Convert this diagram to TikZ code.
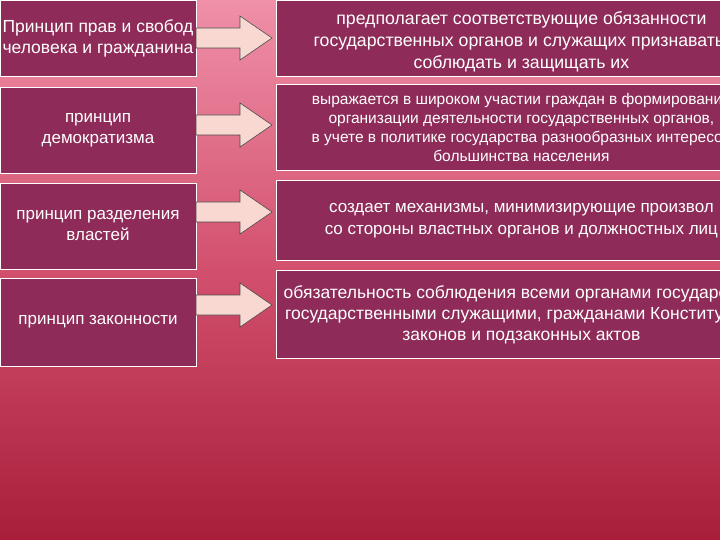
\documentclass[tikz,border=0pt]{standalone}
\usepackage{fontspec}
\setmainfont{Liberation Sans}
\definecolor{boxc}{HTML}{8E2B58}
\definecolor{topc}{HTML}{F090A8}
\definecolor{botc}{HTML}{A81E3A}
\definecolor{arrc}{HTML}{F8D8D0}
\tikzset{
 box/.style={draw=white, line width=0.8pt, fill=boxc, text=white, align=center, inner sep=2pt},
 arr/.style={draw=black!70, fill=arrc, line width=0.6pt},
}
\begin{document}
\begin{tikzpicture}[x=1pt,y=-1pt]
\useasboundingbox (0,0) rectangle (720,540);
\clip (0,0) rectangle (720,540);
\shade[top color=topc, bottom color=botc, middle color={rgb,255:red,210;green,80;blue,110}] (0,0) rectangle (720,540);
% left boxes
\node[box, minimum width=196pt, minimum height=76pt, font=\fontsize{17.5}{21}\selectfont] (l1) at (98,38) {Принцип прав и свобод\\ человека и гражданина};
\node[box, minimum width=196pt, minimum height=86pt, font=\fontsize{17}{21}\selectfont] (l2) at (98,130) {принцип\\ демократизма};
\node[box, minimum width=196pt, minimum height=86pt, font=\fontsize{17}{21}\selectfont] (l3) at (98,226) {принцип разделения\\ властей};
\node[box, minimum width=196pt, minimum height=88pt, font=\fontsize{17}{21}\selectfont] (l4) at (98,322) {принцип законности};
% right boxes
\node[box, minimum width=490pt, minimum height=76pt, anchor=north west, font=\fontsize{17.7}{22}\selectfont] (r1) at (276,0) {\\[-3pt]предполагает соответствующие обязанности\\ государственных органов и служащих признавать,\\ соблюдать и защищать их};
\node[box, minimum width=490pt, minimum height=86pt, anchor=north west, font=\fontsize{15.5}{19}\selectfont] (r2) at (276,84) {выражается в широком участии  граждан в формировании\\ организации  деятельности государственных органов,\\ в учете в политике государства  разнообразных интересов\\ большинства населения};
\node[box, minimum width=490pt, minimum height=80pt, anchor=north west, font=\fontsize{17}{22}\selectfont] (r3) at (276,180) {создает механизмы, минимизирующие произвол\\ со стороны властных  органов и должностных лиц};
\node[box, minimum width=490pt, minimum height=88pt, anchor=north west, font=\fontsize{17.5}{21}\selectfont] (r4) at (276,270) {обязательность соблюдения всеми  органами государства,\\ государственными служащими,  гражданами Конституции,\\ законов и подзаконных актов};
% arrows
\foreach \i/\y in {1/38,2/125,3/212,4/305}{
 \draw[arr] (196,\y-10) -- (240,\y-10) -- (240,\y-22) -- (272,\y) -- (240,\y+22) -- (240,\y+10) -- (196,\y+10) -- cycle;
}
\end{tikzpicture}
\end{document}
